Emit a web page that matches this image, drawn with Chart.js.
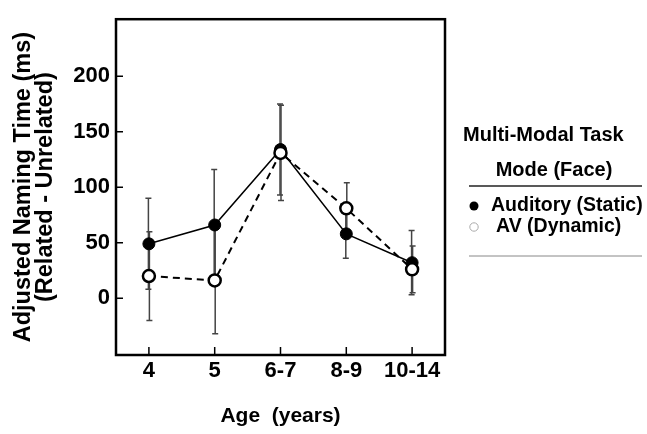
<!DOCTYPE html>
<html>
<head>
<meta charset="utf-8">
<script src="https://cdn.jsdelivr.net/npm/chart.js@4.4.1/dist/chart.umd.min.js"></script>
<style>
  body { margin: 0; background: #fff; }
  canvas { display: block; }
</style>
</head>
<body>
<canvas id="chart" width="647" height="434"></canvas>
<script>
// values
const ages = ['4', '5', '6-7', '8-9', '10-14'];
const auditory = [49, 66, 134, 58, 32];
const auditoryErr = [41, 50, 41, 22, 29];
const av = [20, 16, 131, 81, 26];
const avErr = [40, 48, 43, 23, 21];
const yTicks = [0, 50, 100, 150, 200];

const FONT = "'Liberation Sans', Arial, sans-serif";

// error bars, frame, inward ticks and the side legend
const extras = {
  id: 'extras',
  beforeDatasetsDraw(chart) {
    const ctx = chart.ctx;
    const x = chart.scales.x, y = chart.scales.y;
    const sets = [[auditory, auditoryErr, -0.5], [av, avErr, 0.5]];
    ctx.save();
    ctx.strokeStyle = '#444';
    ctx.lineWidth = 1.5;
    sets.forEach(([vals, errs, dx]) => {
      vals.forEach((v, i) => {
        const px = x.getPixelForValue(i) + dx;
        const top = y.getPixelForValue(v + errs[i]);
        const bot = y.getPixelForValue(v - errs[i]);
        ctx.beginPath();
        ctx.moveTo(px, top); ctx.lineTo(px, bot);
        ctx.moveTo(px - 3, top); ctx.lineTo(px + 3, top);
        ctx.moveTo(px - 3, bot); ctx.lineTo(px + 3, bot);
        ctx.stroke();
      });
    });
    ctx.restore();
  },
  afterDraw(chart) {
    const ctx = chart.ctx;
    const a = chart.chartArea;
    const x = chart.scales.x, y = chart.scales.y;
    ctx.save();
    // ticks pointing in
    ctx.strokeStyle = '#000';
    ctx.lineWidth = 1.5;
    ctx.beginPath();
    yTicks.forEach(t => {
      const py = y.getPixelForValue(t);
      ctx.moveTo(a.left, py); ctx.lineTo(a.left + 7, py);
    });
    ages.forEach((_, i) => {
      const px = x.getPixelForValue(i);
      ctx.moveTo(px, a.bottom); ctx.lineTo(px, a.bottom - 8);
    });
    ctx.stroke();
    // frame
    ctx.lineWidth = 2.5;
    ctx.strokeRect(a.left, a.top, a.right - a.left, a.bottom - a.top);

    // legend
    ctx.fillStyle = '#000';
    ctx.font = 'bold 20px ' + FONT;
    ctx.textBaseline = 'middle';
    ctx.textAlign = 'left';
    ctx.fillText('Multi-Modal Task', 463, 135);
    ctx.textAlign = 'center';
    ctx.fillText('Mode (Face)', 554, 170);
    ctx.lineWidth = 1.5;
    ctx.strokeStyle = '#222';
    ctx.beginPath(); ctx.moveTo(469, 186); ctx.lineTo(642, 186); ctx.stroke();
    ctx.strokeStyle = '#888';
    ctx.lineWidth = 1;
    ctx.beginPath(); ctx.moveTo(469, 256); ctx.lineTo(642, 256); ctx.stroke();

    ctx.textAlign = 'left';
    ctx.beginPath(); ctx.arc(474, 206, 4.5, 0, Math.PI * 2); ctx.fill();
    ctx.font = 'bold 19.5px ' + FONT;
    ctx.fillText('Auditory (Static)', 491, 206);
    ctx.strokeStyle = '#aaa';
    ctx.beginPath(); ctx.arc(474, 227, 4.2, 0, Math.PI * 2); ctx.stroke();
    ctx.fillText('AV (Dynamic)', 496, 227);
    ctx.restore();
  }
};

new Chart(document.getElementById('chart'), {
  type: 'line',
  data: {
    labels: ages,
    datasets: [
      {
        label: 'Auditory (Static)',
        data: auditory,
        order: 2,
        borderColor: '#000',
        borderWidth: 1.5,
        backgroundColor: '#000',
        pointBackgroundColor: '#000',
        pointBorderColor: '#000',
        pointRadius: 6,
        pointBorderWidth: 1
      },
      {
        label: 'AV (Dynamic)',
        data: av,
        order: 1,
        borderColor: '#000',
        borderWidth: 2,
        borderDash: [7, 5],
        backgroundColor: '#fff',
        pointBackgroundColor: '#fff',
        pointBorderColor: '#000',
        pointRadius: 6,
        pointBorderWidth: 2.5
      }
    ]
  },
  options: {
    responsive: false,
    animation: false,
    devicePixelRatio: 1,
    layout: { padding: { left: 0, top: 14, right: 202, bottom: 0 } },
    plugins: { legend: { display: false }, tooltip: { enabled: false } },
    scales: {
      x: {
        offset: true,
        grid: { display: false, drawTicks: false },
        border: { display: false },
        ticks: { color: '#000', padding: 3, font: { family: FONT, size: 22, weight: 'bold' } },
        title: {
          display: true,
          text: 'Age  (years)',
          color: '#000',
          padding: { top: 0, bottom: 5 },
          font: { family: FONT, size: 21, weight: 'bold' }
        },
        afterFit(scale) { scale.height = 79; }
      },
      y: {
        min: -51.2,
        max: 251.5,
        grid: { display: false, drawTicks: false },
        border: { display: false },
        ticks: {
          stepSize: 50,
          color: '#000',
          padding: 6,
          font: { family: FONT, size: 22, weight: 'bold' },
          callback: v => (yTicks.includes(v) ? v : '')
        },
        title: {
          display: true,
          text: ['Adjusted Naming Time (ms)', '(Related - Unrelated)'],
          color: '#000',
          padding: { top: 12, bottom: 0 },
          font: { family: FONT, size: 23.5, weight: 'bold', lineHeight: 0.95 }
        },
        afterFit(scale) { scale.width = 116; }
      }
    }
  },
  plugins: [extras]
});
</script>
</body>
</html>
